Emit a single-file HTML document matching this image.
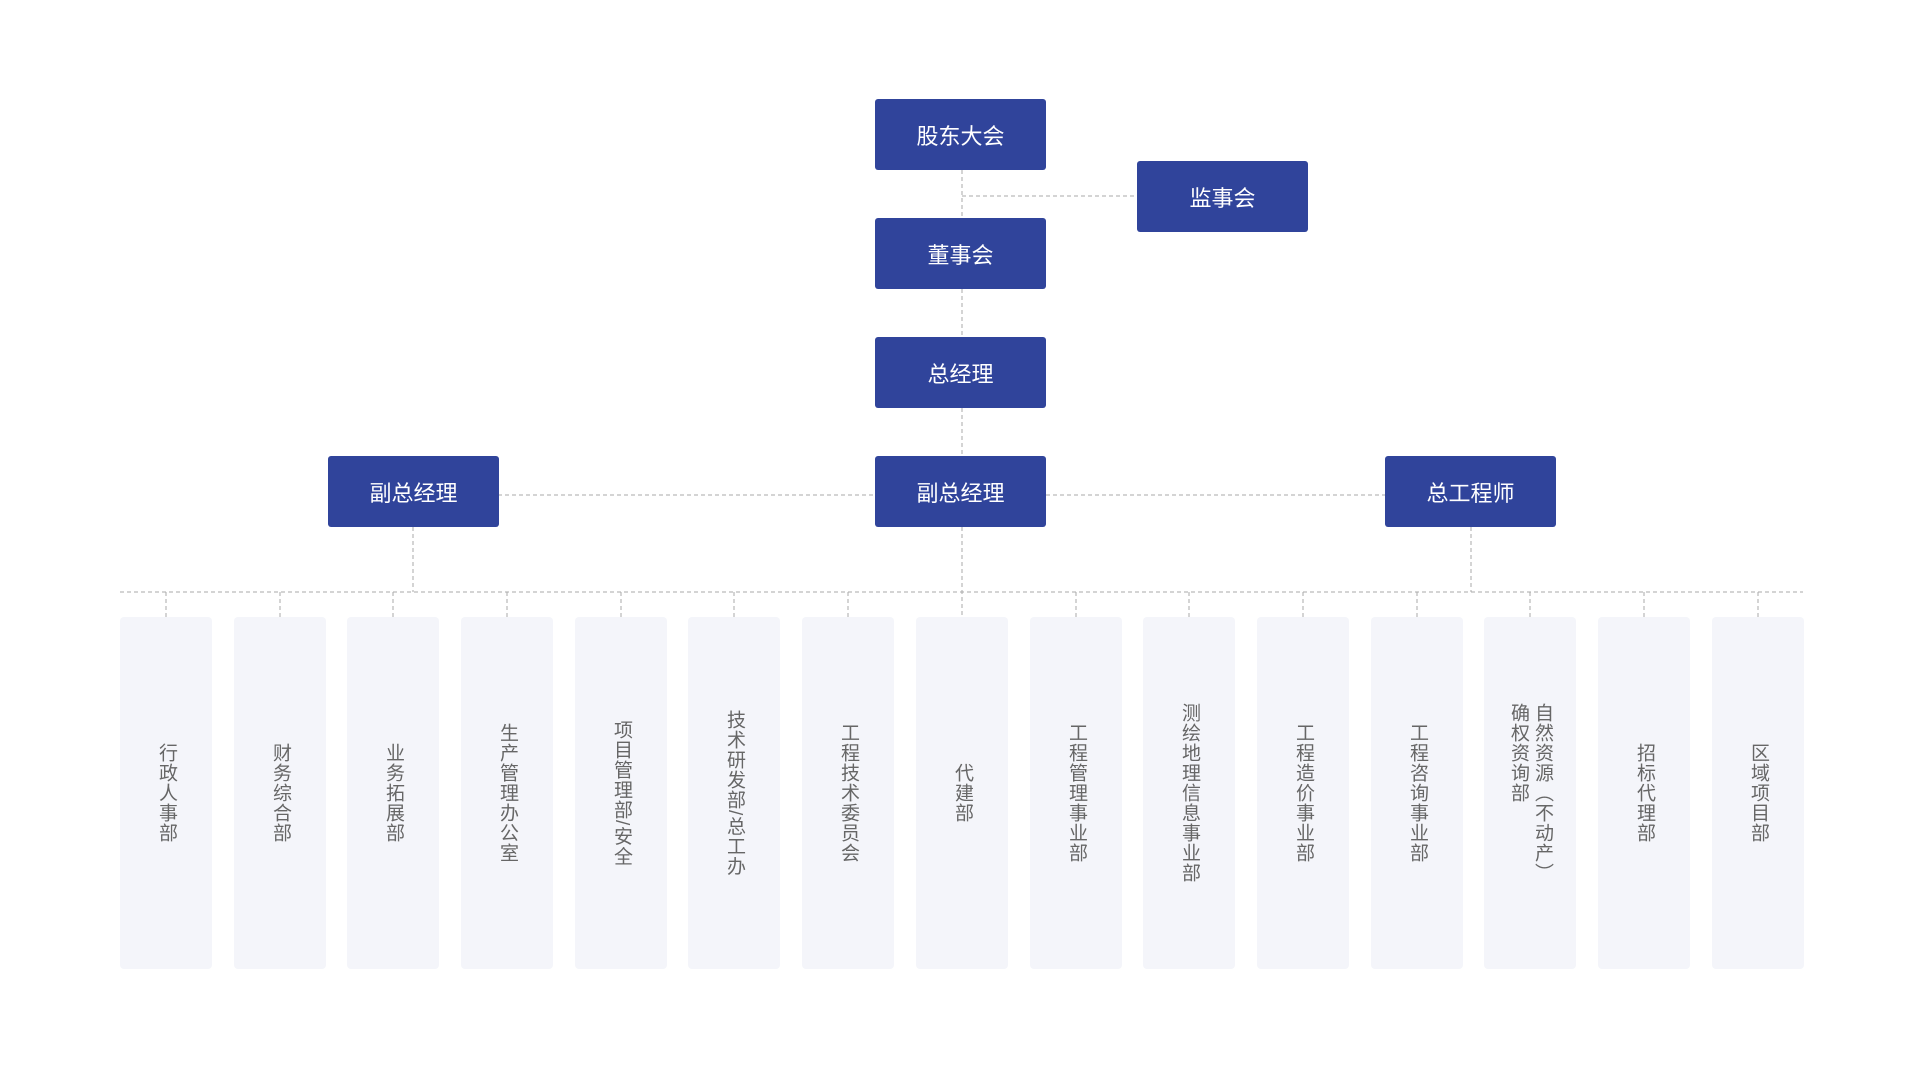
<!DOCTYPE html>
<html><head><meta charset="utf-8"><style>
body{margin:0;width:1920px;height:1085px;background:#fff;position:relative;overflow:hidden;font-family:"Liberation Sans","Noto Sans CJK SC",sans-serif}
.b{position:absolute;width:171px;height:71px;background:#30449b;border-radius:3px;color:#fff;font-size:22px;display:flex;align-items:center;justify-content:center}
.c{position:absolute;top:617px;width:92px;height:352px;background:#f4f5fa;border-radius:4px;display:flex;align-items:center;justify-content:center}
.t{writing-mode:vertical-rl;font-size:19px;color:#666;line-height:24px;letter-spacing:1px}
svg{position:absolute;left:0;top:0}
</style></head><body>
<svg width="1920" height="1085"><g stroke="#aaa" stroke-width="1" stroke-dasharray="4,3" fill="none">
<line x1="962" y1="170" x2="962" y2="617"/>
<line x1="962" y1="196" x2="1137" y2="196"/>
<line x1="498" y1="495" x2="875" y2="495"/>
<line x1="1046" y1="495" x2="1385" y2="495"/>
<line x1="413" y1="527" x2="413" y2="592"/>
<line x1="1471" y1="527" x2="1471" y2="592"/>
<line x1="120" y1="592" x2="1803" y2="592"/>
<line x1="166" y1="592" x2="166" y2="617"/><line x1="280" y1="592" x2="280" y2="617"/><line x1="393" y1="592" x2="393" y2="617"/><line x1="507" y1="592" x2="507" y2="617"/><line x1="621" y1="592" x2="621" y2="617"/><line x1="734" y1="592" x2="734" y2="617"/><line x1="848" y1="592" x2="848" y2="617"/><line x1="1076" y1="592" x2="1076" y2="617"/><line x1="1189" y1="592" x2="1189" y2="617"/><line x1="1303" y1="592" x2="1303" y2="617"/><line x1="1417" y1="592" x2="1417" y2="617"/><line x1="1530" y1="592" x2="1530" y2="617"/><line x1="1644" y1="592" x2="1644" y2="617"/><line x1="1758" y1="592" x2="1758" y2="617"/>
</g></svg>
<div class="b" style="left:875px;top:99px">股东大会</div>
<div class="b" style="left:1137px;top:161px">监事会</div>
<div class="b" style="left:875px;top:218px">董事会</div>
<div class="b" style="left:875px;top:337px">总经理</div>
<div class="b" style="left:875px;top:456px">副总经理</div>
<div class="b" style="left:328px;top:456px">副总经理</div>
<div class="b" style="left:1385px;top:456px">总工程师</div>
<div class="c" style="left:120px"><span class="t">行政人事部</span></div>
<div class="c" style="left:234px"><span class="t">财务综合部</span></div>
<div class="c" style="left:347px"><span class="t">业务拓展部</span></div>
<div class="c" style="left:461px"><span class="t">生产管理办公室</span></div>
<div class="c" style="left:575px"><span class="t">项目管理部/安全</span></div>
<div class="c" style="left:688px"><span class="t">技术研发部/总工办</span></div>
<div class="c" style="left:802px"><span class="t">工程技术委员会</span></div>
<div class="c" style="left:916px"><span class="t">代建部</span></div>
<div class="c" style="left:1030px"><span class="t">工程管理事业部</span></div>
<div class="c" style="left:1143px"><span class="t">测绘地理信息事业部</span></div>
<div class="c" style="left:1257px"><span class="t">工程造价事业部</span></div>
<div class="c" style="left:1371px"><span class="t">工程咨询事业部</span></div>
<div class="c" style="left:1484px"><span class="t">自然资源（不动产）<br>确权资询部</span></div>
<div class="c" style="left:1598px"><span class="t">招标代理部</span></div>
<div class="c" style="left:1712px"><span class="t">区域项目部</span></div>
</body></html>
